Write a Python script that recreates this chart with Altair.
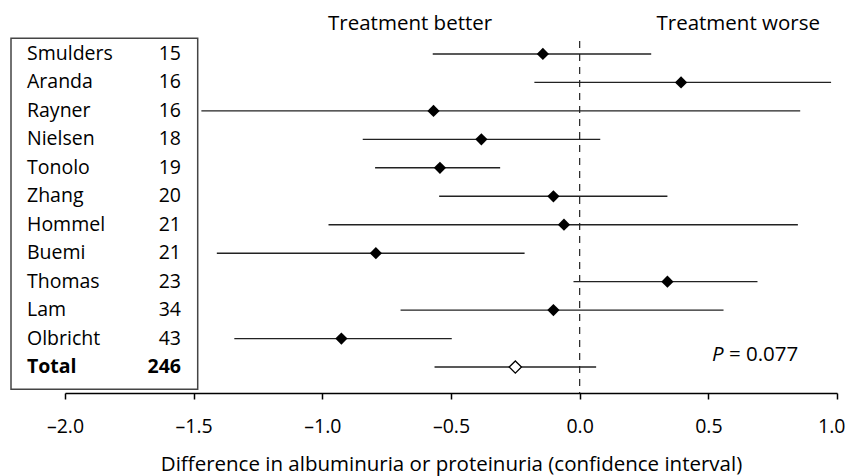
import altair as alt
import pandas as pd

names = ["Smulders", "Aranda", "Rayner", "Nielsen", "Tonolo", "Zhang", "Hommel",
         "Buemi", "Thomas", "Lam", "Olbricht", "Total"]
ns = ["15", "16", "16", "18", "19", "20", "21", "21", "23", "34", "43", "246"]
est = [-0.143, 0.394, -0.568, -0.382, -0.543, -0.102, -0.061, -0.792, 0.341, -0.102, -0.926, -0.250]
lo = [-0.571, -0.176, -1.47, -0.843, -0.795, -0.546, -0.976, -1.410, -0.024, -0.696, -1.342, -0.564]
hi = [0.278, 0.977, 0.857, 0.080, -0.309, 0.341, 0.848, -0.214, 0.691, 0.559, -0.497, 0.064]
is_total = [False] * 11 + [True]

tick_values = [-2.0, -1.5, -1.0, -0.5, 0.0, 0.5, 1.0]
side_labels = ["Treatment better", "Treatment worse"]
side_pos = [-0.659, 0.616]

FONT = "Open Sans"
FS = 19.5
FS_BIG = 20.5

df = pd.DataFrame({"name": names, "n": ns, "est": est, "lo": lo, "hi": hi, "total": is_total})

yenc = alt.Y("name:N", sort=names, scale=alt.Scale(type="point", padding=0.912), axis=None)
xscale = alt.Scale(domain=[-2.0, 1.0], nice=False, zero=False)

base = alt.Chart(df)

zero_line = alt.Chart(pd.DataFrame({"x": [0.0]})).mark_rule(
    color="#222", strokeWidth=1.2, strokeDash=[7, 6]
).encode(x=alt.X("x:Q", scale=xscale), y=alt.value(13), y2=alt.value(365))

bars = base.mark_rule(color="#222", strokeWidth=1.4).encode(
    x=alt.X("lo:Q", scale=xscale,
            axis=alt.Axis(values=tick_values,
                          labelExpr="(datum.value < 0 ? '–' : '') + format(abs(datum.value), '.1f')",
                          labelAlign=alt.ExprRef(expr="datum.value >= 1 ? 'right' : 'center'"),
                          labelOffset=alt.ExprRef(expr="datum.value >= 1 ? 8 : 0"),
                          title="Difference in albuminuria or proteinuria (confidence interval)")),
    x2="hi:Q",
    y=yenc,
)

pts = base.transform_filter("!datum.total").mark_point(
    shape="diamond", filled=True, color="black", size=150, opacity=1
).encode(x=alt.X("est:Q", scale=xscale), y=yenc)

tot = base.transform_filter("datum.total").mark_point(
    shape="diamond", filled=True, fill="white", stroke="black", strokeWidth=1.3, size=150, opacity=1
).encode(x=alt.X("est:Q", scale=xscale), y=yenc)

box = alt.Chart(pd.DataFrame({"a": [0]})).mark_rect(
    fill="white", stroke="#444", strokeWidth=1.5
).encode(x=alt.value(-54), x2=alt.value(132.7), y=alt.value(10.3), y2=alt.value(361.3))


def label_layer(field, align, xpx, bold):
    filt = "datum.total" if bold else "!datum.total"
    return base.transform_filter(filt).mark_text(
        align=align, baseline="middle", font=FONT, fontSize=FS, color="black",
        fontWeight="bold" if bold else "normal"
    ).encode(x=alt.value(xpx), y=yenc, text=f"{field}:N")


name_text = label_layer("name", "left", -38, False)
name_bold = label_layer("name", "left", -38, True)
n_text = label_layer("n", "right", 116, False)
n_bold = label_layer("n", "right", 116, True)

side = alt.Chart(pd.DataFrame({"t": side_labels, "x": side_pos})).mark_text(
    align="center", baseline="middle", font=FONT, fontSize=FS_BIG, color="black"
).encode(x=alt.X("x:Q", scale=xscale), y=alt.value(-4), text="t:N")

p_df = pd.DataFrame({"t": ["P", "= 0.077"], "x": [0.514, 0.580]})
p_italic = alt.Chart(p_df.iloc[[0]]).mark_text(
    align="left", baseline="middle", font=FONT, fontSize=FS_BIG, fontStyle="italic", color="black"
).encode(x=alt.X("x:Q", scale=xscale), y=alt.value(327), text="t:N")
p_rest = alt.Chart(p_df.iloc[[1]]).mark_text(
    align="left", baseline="middle", font=FONT, fontSize=FS_BIG, color="black"
).encode(x=alt.X("x:Q", scale=xscale), y=alt.value(327), text="t:N")

chart = alt.layer(zero_line, bars, pts, tot, box, name_text, name_bold, n_text, n_bold,
                  side, p_italic, p_rest).properties(
    width=772, height=365,
    autosize=alt.AutoSizeParams(type="none"),
    padding={"left": 57, "top": 20, "right": 8, "bottom": 83},
).configure_view(stroke=None).configure_axis(
    domainColor="black", domainWidth=1.5, tickColor="black", tickWidth=1.5, tickSize=6,
    labelFont=FONT, labelFontSize=FS, labelColor="black", labelPadding=18, labelFlush=False,
    titleFont=FONT, titleFontSize=FS_BIG, titleFontWeight="normal", titleColor="black", titlePadding=19,
    grid=False,
)

chart.save("out.html", embed_options={"renderer": "svg", "actions": False})
